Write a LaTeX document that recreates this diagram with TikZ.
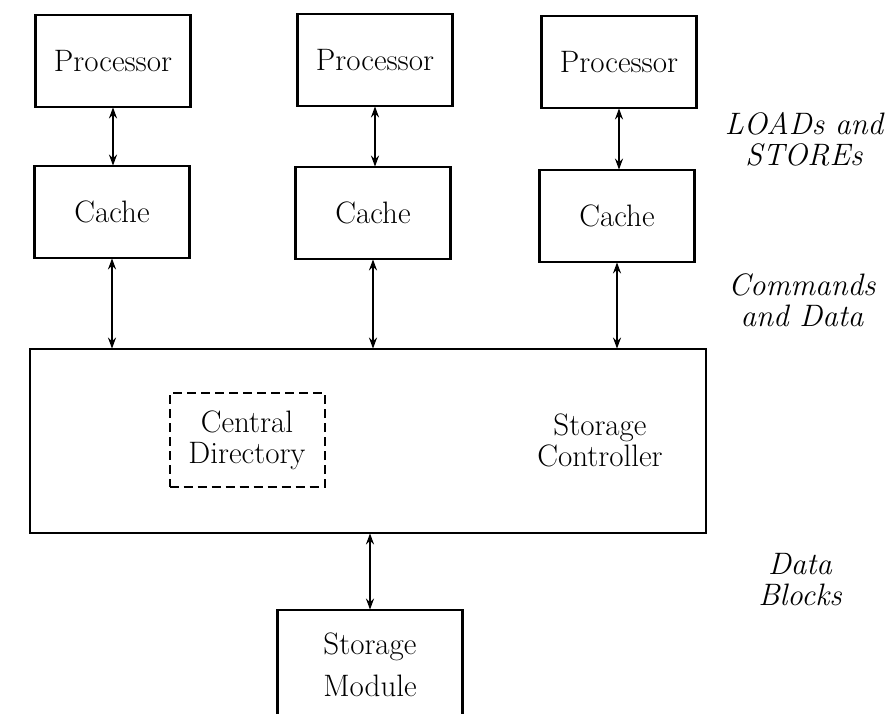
\documentclass[tikz,border=0pt]{standalone}
\usepackage{tikz}
\usetikzlibrary{arrows,arrows.meta,positioning}

\newcommand{\diagfont}{\fontsize{31}{31}\selectfont}

\begin{document}
\begin{tikzpicture}[x=1pt, y=-1pt]
	\tikzstyle{Box}		= [rectangle, draw, line width=2.8pt, minimum width=155pt, minimum height=92pt, inner sep=0pt, align=center, font=\diagfont]
	\tikzstyle{Dir}		= [Box, line width=2pt, dash pattern=on 9pt off 5pt]
	\tikzstyle{Note}	= [align=center, inner sep=0pt, font=\diagfont\itshape]
	\tikzstyle{Link}	= [line width=2pt, shorten <=-1pt, shorten >=-1pt, {Stealth[length=11pt,width=8pt]}-{Stealth[length=11pt,width=8pt]}]

	\useasboundingbox (0,0) rectangle (887,714);
	\clip (0,0) rectangle (887,714);

	\foreach \n/\x/\y in {1/113/61, 2/375/60, 3/619/62}
		\node (p\n) at (\x, \y) [Box] {Processor};
	\foreach \n/\x/\y in {1/112/212, 2/373/213, 3/617/216}
		\node (c\n) at (\x, \y) [Box] {Cache};

	\node (sc) at (368, 441) [Box, minimum width=676pt, minimum height=184pt] {};
	\node (dir) at (247, 440) [Dir, minimum height=94pt] {Central\\Directory};
	\node (sctext) at (600, 440) [align=center, inner sep=0pt, font=\diagfont] {Storage\\Controller};
	\node (sm) at (370, 665) [Box, minimum width=185pt, minimum height=110pt] {Storage\\[11pt]Module};

	\foreach \n in {1,2,3} {
		\draw [Link] (p\n.south) -- (p\n.south |- c\n.north);
		\draw [Link] (c\n.south) -- (c\n.south |- sc.north);
	}
	\draw [Link] (sm.north) -- (sm.north |- sc.south);

	% labels on the right
	\node (ls) at (804, 139) [Note] {LOADs and\\STOREs};
	\node (cd) at (802, 300) [Note] {Commands\\and Data};
	\node (db) at (800, 580) [Note] {Data\\Blocks};
\end{tikzpicture}
\end{document}
